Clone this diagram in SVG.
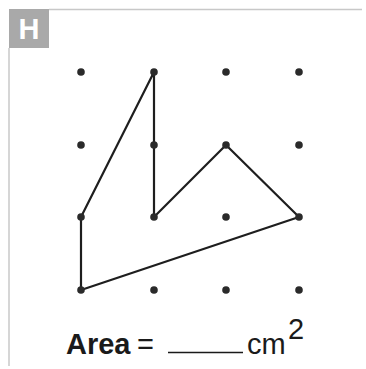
<svg xmlns="http://www.w3.org/2000/svg" width="366" height="369" viewBox="0 0 366 369">
<style>
.frame{stroke:#c8c8c8;stroke-width:1.5;fill:none}
.dot{fill:#2a2a2a}
.edge{stroke:#1e1e1e;stroke-width:2.2;fill:none;stroke-linejoin:round}
.lbl{font-family:"Liberation Sans",Arial,sans-serif;font-size:29px;fill:#1a1a1a}
</style>
<rect width="366" height="369" fill="#ffffff"/>
<g id="frame">
<line class="frame" x1="49" y1="9.5" x2="362" y2="9.5"/>
<line class="frame" x1="9" y1="48" x2="9" y2="366"/>
<rect x="9" y="9" width="40" height="39" fill="#a9a9a9"/>
<text x="29" y="38.5" text-anchor="middle" font-family="'Liberation Sans',Arial,sans-serif" font-weight="bold" font-size="29" fill="#ffffff">H</text>
</g>
<g id="connectors">
<polygon class="edge" points="154,72 154,217 226,145 299,217 81,290 81,217"/>
</g>
<g id="dots">
<circle class="dot" cx="81" cy="72" r="3.8"/>
<circle class="dot" cx="154" cy="72" r="3.8"/>
<circle class="dot" cx="226" cy="72" r="3.8"/>
<circle class="dot" cx="299" cy="72" r="3.8"/>
<circle class="dot" cx="81" cy="145" r="3.8"/>
<circle class="dot" cx="154" cy="145" r="3.8"/>
<circle class="dot" cx="226" cy="145" r="3.8"/>
<circle class="dot" cx="299" cy="145" r="3.8"/>
<circle class="dot" cx="81" cy="217" r="3.8"/>
<circle class="dot" cx="154" cy="217" r="3.8"/>
<circle class="dot" cx="226" cy="217" r="3.8"/>
<circle class="dot" cx="299" cy="217" r="3.8"/>
<circle class="dot" cx="81" cy="290" r="3.8"/>
<circle class="dot" cx="154" cy="290" r="3.8"/>
<circle class="dot" cx="226" cy="290" r="3.8"/>
<circle class="dot" cx="299" cy="290" r="3.8"/>
</g>
<g id="label">
<text class="lbl" x="66" y="354"><tspan font-weight="bold">Area</tspan></text>
<text class="lbl" x="137" y="354">=</text>
<line x1="168" y1="352.5" x2="243" y2="352.5" stroke="#1a1a1a" stroke-width="1.5"/>
<text class="lbl" x="247" y="354">cm</text>
<text class="lbl" x="288" y="339" font-size="18">2</text>
</g>
</svg>
